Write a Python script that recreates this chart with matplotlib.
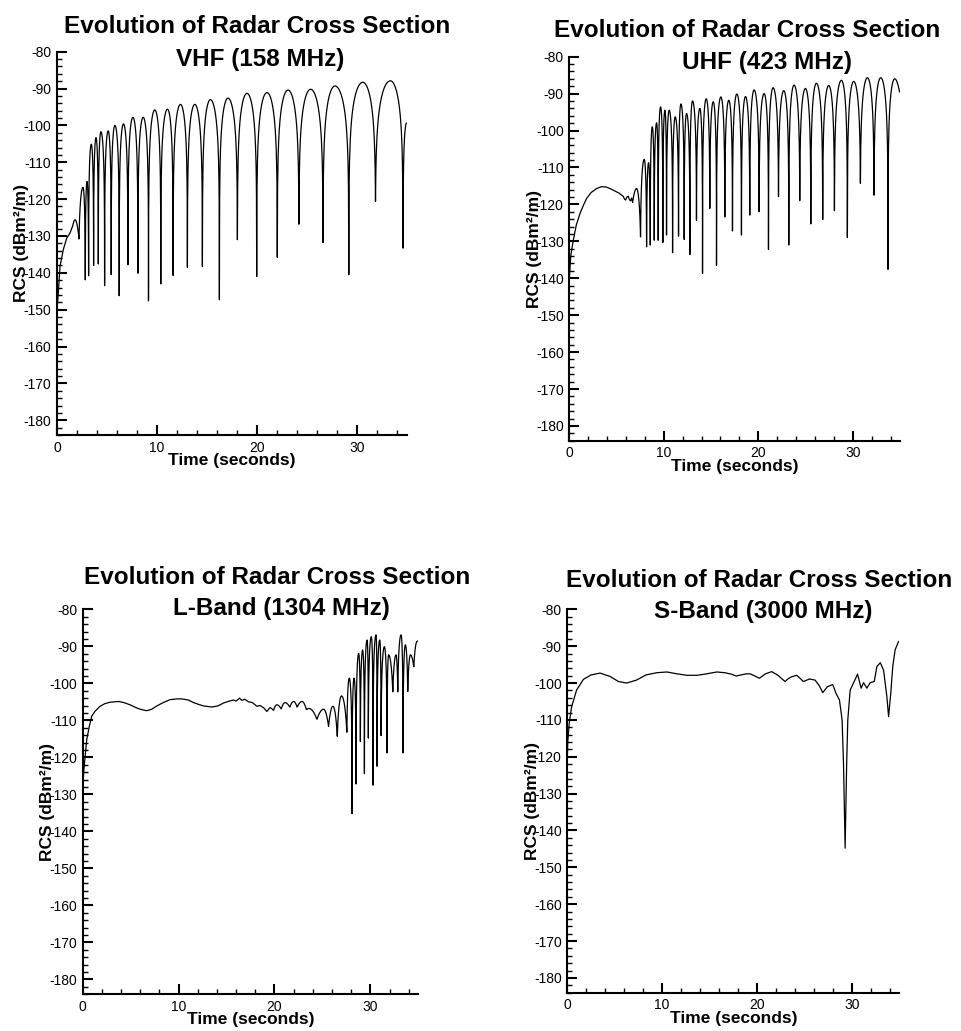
import numpy as np
import matplotlib
matplotlib.use('Agg')
import matplotlib.pyplot as plt
from matplotlib.ticker import MultipleLocator

plt.rcParams['font.family'] = ['Liberation Sans', 'DejaVu Sans']
plt.rcParams['axes.unicode_minus'] = False

W, H = 961, 1031

# ---- VHF (158 MHz) ----
vhf_t = [0, 0.13, 0.3, 0.63, 0.97, 1.3, 1.56]
vhf_v = [-150, -145.5, -138.3, -133.7, -130.6, -129.2, -127.4]
# alternating peaks / nulls
vhf_ext_t = [1.8, 2.2, 2.6, 2.83, 3.0, 3.16, 3.43, 3.66, 3.9, 4.13, 4.39, 4.76,
             5.12, 5.42, 5.79, 6.22, 6.65, 7.09, 7.59, 8.09, 8.62, 9.15, 9.78, 10.38,
             11.05, 11.61, 12.35, 13.04, 13.78, 14.54, 15.34, 16.24, 17.1, 18.04, 19.0, 19.97,
             21.0, 22.03, 23.1, 24.19, 25.36, 26.6, 27.8, 29.18, 30.58, 31.85, 33.34, 34.6,
             34.95]
vhf_ext_v = [-125.6, -130.8, -116.8, -141.9, -115.2, -140.8, -105.1, -138, -103.3, -137.6, -101.7, -143.5,
             -101.5, -140.5, -100, -146.2, -99.6, -137.8, -97.8, -140.1, -97.8, -147.6, -95.8, -143,
             -95.6, -140.7, -94.3, -138.5, -94.3, -138.3, -93, -147.3, -92.6, -131, -91.3, -141,
             -91.1, -135.8, -90.4, -126.8, -90.2, -131.8, -89.3, -140.5, -88.3, -120.6, -87.9, -133.3,
             -99.4]

# ---- UHF (423 MHz) ----
uhf_t = [0, 0.15, 0.42, 0.75, 1.13, 1.5, 1.83, 2.3, 2.89, 3.42, 3.9, 4.3, 4.7,
         5.0, 5.3, 5.53, 5.71, 5.85, 5.96, 6.1, 6.24, 6.38, 6.49, 6.6, 6.7]
uhf_v = [-140.5, -134, -129.7, -125.5, -122.5, -120.2, -118.4, -116.8, -115.7, -115.2, -115.3, -115.7, -116.2,
         -116.6, -117.0, -117.5, -117.8, -118.6, -118.8, -118.0, -117.8, -118.8, -119.0, -118.3, -119.5]
uhf_ext_t = [7.12, 7.54, 7.93, 8.18, 8.39, 8.57, 8.78, 8.99, 9.24, 9.41,
             9.66, 9.9, 10.12, 10.29, 10.57, 10.93, 11.21, 11.56, 11.81, 12.16,
             12.41, 12.76, 13.04, 13.46, 13.82, 14.1, 14.49, 14.87, 15.23, 15.58,
             16.04, 16.46, 16.88, 17.27, 17.73, 18.22, 18.65, 19.1, 19.56, 20.09,
             20.62, 21.08, 21.57, 22.14, 22.7, 23.23, 23.79, 24.39, 24.99, 25.56,
             26.15, 26.82, 27.46, 28.06, 28.8, 29.43, 30.1, 30.81, 31.55, 32.25,
             32.96, 33.73, 34.44, 34.95]
uhf_ext_v = [-115.7, -128.8, -107.8, -131.5, -108.7, -131, -99, -129.7, -97.9, -129.7,
             -93.6, -130.3, -94.5, -128.3, -94.5, -133.1, -96.3, -128.6, -92.8, -129.5,
             -95.4, -133.6, -92, -124.3, -94, -138.7, -91.4, -121.1, -92.2, -136.5,
             -90.9, -123.4, -91.8, -127.2, -90.1, -128.3, -90.8, -122.9, -89, -122,
             -90, -132.2, -88.4, -117.9, -89.2, -131, -87.7, -119, -88.6, -125.3,
             -87.2, -124.1, -87.8, -121.7, -86.4, -129, -86.7, -114.3, -85.7, -117.5,
             -85.7, -137.6, -86, -89.5]

# ---- L-Band (1304 MHz) ----
lband_t = [0, 0.1, 0.42, 0.7, 0.94, 1.3, 1.81, 2.3, 2.85, 3.72, 4.3, 4.94, 5.5,
           5.99, 6.68, 7.2, 7.73, 8.4, 9.12, 9.8, 10.34, 11.0, 11.56, 12.1, 12.6,
           13.47, 14.1, 14.69, 15.3, 15.73, 16.0, 16.36, 16.6, 16.9, 17.3, 17.7,
           18.17, 18.5, 18.87, 19.21, 19.49]
lband_v = [-129.6, -124, -115.2, -111.5, -108.9, -107.5, -106.2, -105.5, -105.1, -104.9, -105.2, -105.8, -106.5,
           -107, -107.4, -107, -106.1, -105.2, -104.4, -104.2, -104.2, -104.5, -105.2, -105.7, -106.1,
           -106.4, -106.1, -105.3, -104.8, -104.5, -104.8, -104, -104.6, -104.3, -105, -105.2,
           -106.2, -106.0, -106.6, -107.6, -106.6]
lband_ext_t = [19.9, 20.25, 20.7, 21.1, 21.6, 22.0, 22.36, 22.88, 23.33, 23.6,
               24.43, 25.12, 25.64, 26.1, 26.55, 26.99, 27.55, 27.8, 28.09, 28.3,
               28.51, 28.78, 28.96, 29.19, 29.38, 29.66, 29.79, 30.1, 30.28, 30.59,
               30.7, 30.98, 31.12, 31.46, 31.74, 31.9, 32.34, 32.68, 32.86, 33.2,
               33.41, 33.65, 33.9, 34.18, 34.53, 34.87, 35.0]
lband_ext_v = [-107.3, -105.8, -106.9, -105.2, -106.4, -104.9, -106.4, -104.9, -107.1, -106.8,
               -109.7, -107, -111.6, -106.2, -114.3, -103.4, -113.2, -98.6, -135.2, -98.6,
               -127.2, -91.9, -115.7, -91, -124.4, -88.3, -114.8, -87.4, -127.5, -86.9,
               -122.4, -88.3, -114.1, -90.1, -118.8, -92.3, -102.3, -92.3, -102.3, -86.9,
               -118.8, -89.6, -102.2, -92.3, -95.5, -88.7, -88.5]

# ---- S-Band (3000 MHz) ----
sband_t = [0, 0.05, 0.2, 0.45, 0.98, 1.7, 2.5, 3.45, 4.5, 5.4,
           6.26, 7.3, 8.3, 9.43, 10.5, 11.55, 12.6, 13.7, 14.7, 15.76,
           16.6, 17.3, 17.8, 18.3, 18.9, 19.27, 19.7, 20.25, 20.9, 21.55,
           22.2, 22.96, 23.3, 23.66, 24.19, 24.89, 25.52, 26.12, 26.58, 26.93,
           27.42, 27.98, 28.33, 28.69, 28.97, 29.12, 29.29, 29.45, 29.57, 29.82,
           30.17, 30.6, 30.98, 31.23, 31.58, 31.93, 32.36, 32.64, 33.0, 33.34,
           33.69, 33.87, 34.1, 34.31, 34.56, 34.91, 35.0]
sband_v = [-120.8, -116, -111, -106.5, -101.9, -99, -97.8, -97.3, -98.2, -99.6,
           -100, -99.2, -97.8, -97.2, -97, -97.5, -97.9, -97.9, -97.5, -97,
           -97.2, -97.6, -98.1, -97.8, -97.5, -97.5, -98.0, -98.7, -97.5, -96.9,
           -97.9, -99.6, -98.8, -98.3, -97.9, -99.6, -98.9, -99.2, -100.8, -102.6,
           -101, -100.4, -102.8, -104.6, -110, -122, -144.8, -122, -110, -101.9,
           -100, -97.6, -101.4, -99.9, -101.4, -99.9, -99.6, -95.5, -94.5, -96.5,
           -103.7, -109.1, -102.8, -95.5, -91, -88.8, -88.6]


def lobes(t, v, n=40):
  # join successive extrema with interference-lobe shaped segments (in dB)
  ts, vs = [], []
  s = np.linspace(0, 1, n, endpoint=False)
  for i in range(len(t) - 1):
    hi, lo = max(v[i], v[i + 1]), min(v[i], v[i + 1])
    e = 10 ** ((lo - hi) / 20.0)
    if v[i + 1] >= v[i]:
      a = e + (1 - e) * np.sin(np.pi * s / 2)
    else:
      a = e + (1 - e) * np.cos(np.pi * s / 2)
    ts.append(t[i] + s * (t[i + 1] - t[i]))
    vs.append(hi + 20 * np.log10(a))
  ts.append([t[-1]])
  vs.append([v[-1]])
  return np.concatenate(ts), np.concatenate(vs)


def trace(pts_t, pts_v, ext_t=None, ext_v=None):
  if ext_t is None:
    return np.array(pts_t), np.array(pts_v)
  lt, lv = lobes([pts_t[-1]] + ext_t, [pts_v[-1]] + ext_v)
  return np.r_[pts_t[:-1], lt], np.r_[pts_v[:-1], lv]


# panel geometry in pixels: left, right, top, bottom
panels = [
  dict(box=(57, 407, 51.7, 435), data=trace(vhf_t, vhf_v, vhf_ext_t, vhf_ext_v),
       titles=[(257, 32.7, 'Evolution of Radar Cross Section'), (260, 65.7, 'VHF (158 MHz)')]),
  dict(box=(569.3, 900, 56.7, 440.7), data=trace(uhf_t, uhf_v, uhf_ext_t, uhf_ext_v),
       titles=[(747, 37.3, 'Evolution of Radar Cross Section'), (767, 69.3, 'UHF (423 MHz)')]),
  dict(box=(82.7, 418.3, 609.3, 994.3), data=trace(lband_t, lband_v, lband_ext_t, lband_ext_v),
       titles=[(277.5, 584, 'Evolution of Radar Cross Section'), (281, 615, 'L-Band (1304 MHz)')]),
  dict(box=(567.3, 899.3, 609.3, 992.7), data=trace(sband_t, sband_v),
       titles=[(759, 586.7, 'Evolution of Radar Cross Section'), (763, 617.7, 'S-Band (3000 MHz)')]),
]

fig = plt.figure(figsize=(W / 100, H / 100), dpi=100)

for p in panels:
  l, r, tp, b = p['box']
  ax = fig.add_axes([l / W, 1 - b / H, (r - l) / W, (b - tp) / H])
  t, v = p['data']
  ax.plot(t, v, color='black', lw=0.9)

  ax.set_xlim(0, 35)
  ax.set_ylim(-184, -80)
  ax.xaxis.set_major_locator(MultipleLocator(10))
  ax.xaxis.set_minor_locator(MultipleLocator(2))
  ax.yaxis.set_major_locator(MultipleLocator(10))
  ax.yaxis.set_minor_locator(MultipleLocator(2))

  for side in ('top', 'right'):
    ax.spines[side].set_visible(False)
  for side in ('left', 'bottom'):
    ax.spines[side].set_linewidth(1.5)
  ax.tick_params(which='both', direction='in', top=False, right=False, labelsize=10)
  ax.tick_params(which='major', length=7, width=1.5, pad=4)
  ax.tick_params(which='minor', length=3.5, width=1.0)

  ax.set_xlabel('Time (seconds)', fontsize=12.5, fontweight='bold', labelpad=-1)
  ax.set_ylabel('RCS (dBm\u00b2/m)', fontsize=12.5, fontweight='bold')
  ax.yaxis.set_label_coords(-27.5 / (r - l), 0.5)

  for x, y, s in p['titles']:
    fig.text(x / W, 1 - y / H, s, ha='center', va='baseline',
             fontsize=17.5, fontweight='bold')

fig.savefig('out.png', dpi=100)
